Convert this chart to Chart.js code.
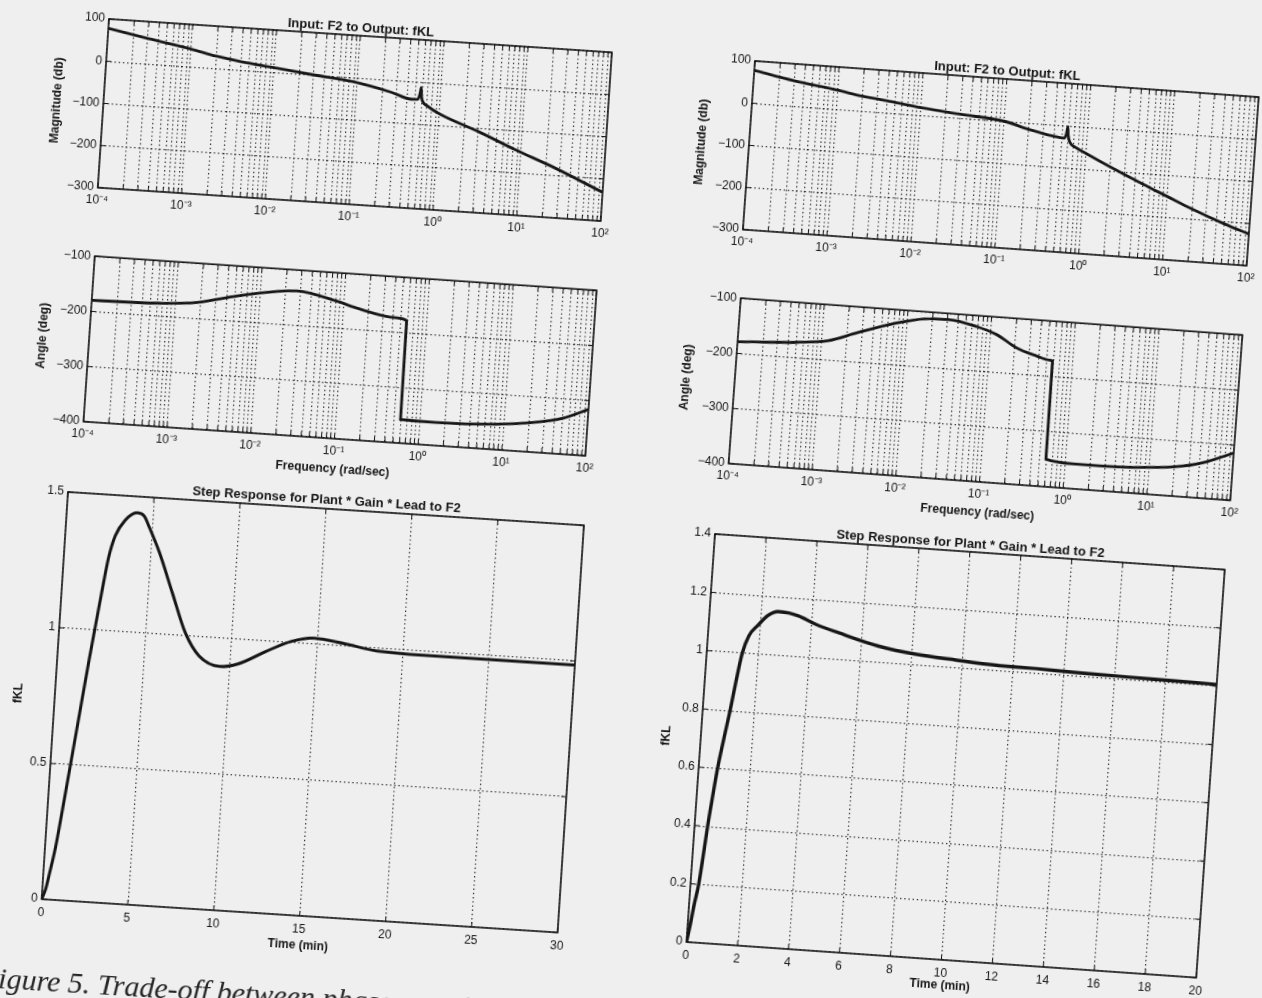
<!DOCTYPE html>
<html>
<head>
<meta charset="utf-8">
<title>Bode and step responses</title>
<script src="https://cdn.jsdelivr.net/npm/chart.js@4.4.1/dist/chart.umd.min.js"></script>
<style>
  html, body { margin: 0; padding: 0; background: #efefef; width: 1262px; height: 998px; overflow: hidden; }
  body { position: relative; }
  .plot { position: absolute; }
  .plot canvas { display: block; }
  #caption {
    position: absolute; left: -19px; top: 962px; margin: 0;
    font: italic 30px "Liberation Serif", "DejaVu Serif", serif; color: #262626;
    transform: rotate(3.5deg); transform-origin: 0 0; white-space: nowrap; line-height: 1;
  }
</style>
</head>
<body>
<div class="plot" id="wrapMagL"><canvas id="magL"></canvas></div>
<div class="plot" id="wrapPhaseL"><canvas id="phaseL"></canvas></div>
<div class="plot" id="wrapMagR"><canvas id="magR"></canvas></div>
<div class="plot" id="wrapPhaseR"><canvas id="phaseR"></canvas></div>
<div class="plot" id="wrapStepL"><canvas id="stepL"></canvas></div>
<div class="plot" id="wrapStepR"><canvas id="stepR"></canvas></div>
<p id="caption">Figure 5. Trade-off between phase margin and</p>

<script>
// ---- values ----
// tick labels
const decadeTicks = [1e-4, 1e-3, 1e-2, 1e-1, 1, 10, 100];
const decadeLabels = ['10⁻⁴', '10⁻³', '10⁻²', '10⁻¹', '10⁰', '10¹', '10²'];
const magTicks = [-300, -200, -100, 0, 100];
const phaseTicks = [-400, -300, -200, -100];
const stepLeftXTicks = [0, 5, 10, 15, 20, 25, 30];
const stepLeftYTicks = [0, 0.5, 1, 1.5];
const stepRightXTicks = [0, 2, 4, 6, 8, 10, 12, 14, 16, 18, 20];
const stepRightYTicks = [0, 0.2, 0.4, 0.6, 0.8, 1, 1.2, 1.4];

// left column: magnitude (db) and angle (deg) against frequency (rad/sec)
const magFreqLeft = [1e-4, 3e-4, 1e-3, 2e-3, 4e-3, 1e-2, 3e-2, 9e-2, 0.26, 0.45, 0.54, 0.57, 0.58, 0.595, 0.63, 0.7, 1, 3, 8.5, 26, 100];
const magLeft = [78, 60, 42, 29, 20, 11, 0, -10, -29, -42, -41, -25, -13, -35, -48, -55, -72, -108, -145, -182, -232];
const phaseFreqLeft = [1e-4, 6.2e-4, 1.8e-3, 5.4e-3, 1.6e-2, 2.7e-2, 8.1e-2, 0.14, 0.43, 0.58, 0.59, 1.55, 7.9, 23, 50, 100];
const phaseLeft = [-180, -177, -171, -154, -141, -138, -151, -161, -174, -178, -357, -358, -354, -346, -335, -316];

// right column
const magFreqRight = [1e-4, 3e-4, 1e-3, 2e-3, 5e-3, 1e-2, 3e-2, 0.1, 0.2, 0.4, 0.53, 0.565, 0.58, 0.595, 0.63, 0.75, 1, 2, 5, 10, 20, 50, 100];
const magRight = [78, 60, 45, 35, 26, 18, 9, 0, -15, -27, -30, -20, -3, -22, -38, -50, -62, -90, -125, -150, -175, -205, -225];
const phaseFreqRight = [1e-4, 5.2e-4, 1.2e-3, 2.6e-3, 7.6e-3, 1.6e-2, 3.1e-2, 6.8e-2, 0.12, 0.21, 0.37, 0.54, 0.58, 0.59, 1.3, 6.9, 20, 43, 100];
const phaseRight = [-179, -172, -165, -147, -124, -113, -111, -120, -132, -153, -165, -171, -172, -350, -355, -353, -347, -336, -314];

// step responses, fKL against time (min)
const stepTimeLeft = [0, 0.2, 0.36, 0.61, 0.8, 1.2, 1.5, 1.85, 2.1, 2.31, 2.6, 2.9, 3.42, 4.09, 4.5, 4.84, 5.52, 6.42, 7.33, 8.2, 9.45, 10.5, 12, 13.5, 14.8, 16.5, 18.5, 22, 26, 30];
const stepLeft = [0, 0.04, 0.097, 0.194, 0.294, 0.52, 0.69, 0.888, 1.02, 1.13, 1.27, 1.35, 1.41, 1.44, 1.43, 1.39, 1.30, 1.155, 1.01, 0.93, 0.896, 0.91, 0.96, 1.005, 1.022, 1.01, 0.99, 0.985, 0.985, 0.985];
const stepTimeRight = [0, 0.1, 0.2, 0.32, 0.42, 0.51, 0.62, 0.74, 0.9, 1.07, 1.22, 1.39, 1.6, 1.94, 2.3, 2.69, 3.1, 3.48, 4.2, 5.1, 6.7, 8.2, 9.77, 11.3, 12.9, 14.45, 16, 17.55, 20];
const stepRight = [0, 0.06, 0.13, 0.2, 0.3, 0.4, 0.5, 0.6, 0.7, 0.8, 0.9, 1.0, 1.06, 1.10, 1.135, 1.15, 1.148, 1.14, 1.115, 1.092, 1.056, 1.037, 1.027, 1.019, 1.017, 1.013, 1.011, 1.009, 1.006];

// ---- drawing ----
const ink = '#161616';
const gridInk = 'rgba(20,20,20,0.85)';
const sans = '"Liberation Sans", Arial, Helvetica, sans-serif';

// every 1..9 x 10^n line, like the matlab log grid
const logGrid = [];
decadeTicks.slice(0, -1).forEach(d => { for (let m = 1; m <= 9; m++) logGrid.push(m * d); });
logGrid.push(100);

// box round the plot, inner ticks and the title
const framePlugin = {
    id: 'frame',
    afterDatasetsDraw(chart, args, opts) {
        const { ctx, chartArea: a, scales } = chart;
        ctx.save();
        ctx.strokeStyle = ink;
        ctx.lineWidth = 1;
        scales.x.ticks.forEach(t => {
            const px = scales.x.getPixelForValue(t.value);
            ctx.beginPath();
            ctx.moveTo(px, a.bottom); ctx.lineTo(px, a.bottom - 5);
            ctx.moveTo(px, a.top); ctx.lineTo(px, a.top + 5);
            ctx.stroke();
        });
        scales.y.ticks.forEach(t => {
            const py = scales.y.getPixelForValue(t.value);
            ctx.beginPath();
            ctx.moveTo(a.left, py); ctx.lineTo(a.left + 5, py);
            ctx.moveTo(a.right, py); ctx.lineTo(a.right - 5, py);
            ctx.stroke();
        });
        ctx.lineWidth = 1.6;
        ctx.strokeRect(a.left, a.top, a.right - a.left, a.bottom - a.top);
        if (opts.title) {
            ctx.font = 'bold 13px ' + sans;
            ctx.fillStyle = ink;
            ctx.textAlign = 'center';
            ctx.textBaseline = 'middle';
            ctx.fillText(opts.title, (a.left + a.right) / 2, a.top - opts.gap);
        }
        ctx.restore();
    }
};
Chart.register(framePlugin);

function minus(v) {
    return String(v).replace('-', '\u2212');
}

function curve(xs, ys, width) {
    return {
        data: xs.map((x, i) => ({ x: x, y: ys[i] })),
        borderColor: ink,
        borderWidth: width,
        pointRadius: 0,
        cubicInterpolationMode: 'monotone',
        fill: false
    };
}

function axisTitle(text, pad) {
    if (!text) return { display: false };
    return { display: true, text: text, color: ink, font: { size: 12, weight: 'bold', family: sans }, padding: pad };
}

function yScale(min, max, tickList, title, titlePad) {
    return {
        type: 'linear', min: min, max: max,
        afterBuildTicks: s => { s.ticks = tickList.map(v => ({ value: v })); },
        ticks: { autoSkip: false, padding: 4, color: ink, font: { size: 12, family: sans }, callback: v => minus(v) },
        grid: { color: gridInk, lineWidth: 1.2, drawTicks: false },
        border: { display: false, dash: [1.4, 2.8] },
        title: axisTitle(title, { top: titlePad, bottom: 0 })
    };
}

function logXScale(title, titlePad) {
    return {
        type: 'logarithmic', min: 1e-4, max: 100,
        afterBuildTicks: s => { s.ticks = logGrid.map(v => ({ value: v })); },
        ticks: {
            autoSkip: false, maxRotation: 0, padding: 5, color: ink, font: { size: 12, family: sans },
            callback: v => { const i = decadeTicks.indexOf(v); return i < 0 ? '' : decadeLabels[i]; }
        },
        grid: { color: gridInk, lineWidth: 1.2, drawTicks: false },
        border: { display: false, dash: [1.4, 2.8] },
        title: axisTitle(title, { top: 0, bottom: titlePad })
    };
}

function linXScale(max, tickList, title, titlePad) {
    return {
        type: 'linear', min: 0, max: max,
        afterBuildTicks: s => { s.ticks = tickList.map(v => ({ value: v })); },
        ticks: { autoSkip: false, maxRotation: 0, padding: 6, color: ink, font: { size: 12, family: sans } },
        grid: { color: gridInk, lineWidth: 1.2, drawTicks: false },
        border: { display: false, dash: [1.4, 2.8] },
        title: axisTitle(title, { top: 0, bottom: titlePad })
    };
}

// box = plot area corner on the page, its size and the scan's tilt
function place(name, box, pad, dataset, scales, title, gap) {
    const W = pad.l + box.w + pad.r;
    const H = pad.t + box.h + pad.b;
    const cv = document.getElementById(name);
    cv.width = W; cv.height = H;
    cv.style.width = W + 'px'; cv.style.height = H + 'px';
    const wrap = document.getElementById('wrap' + name.charAt(0).toUpperCase() + name.slice(1));
    wrap.style.left = (box.x - pad.l) + 'px';
    wrap.style.top = (box.y - pad.t) + 'px';
    wrap.style.transformOrigin = pad.l + 'px ' + pad.t + 'px';
    wrap.style.transform = 'rotate(' + box.rot + 'deg)';
    scales.y.afterFit = s => { s.width = pad.l; };
    scales.x.afterFit = s => { s.height = pad.b; };
    return new Chart(cv, {
        type: 'line',
        data: { datasets: [dataset] },
        options: {
            responsive: false,
            animation: false,
            devicePixelRatio: 1,
            events: [],
            layout: { padding: { top: pad.t, right: pad.r, left: 0, bottom: 0 } },
            scales: scales,
            plugins: {
                legend: { display: false },
                tooltip: { enabled: false },
                frame: { title: title, gap: gap }
            }
        }
    });
}

place('magL', { x: 109, y: 19, w: 504, h: 169, rot: 3.8 }, { l: 62, r: 16, t: 22, b: 30 },
    curve(magFreqLeft, magLeft, 2.8),
    { x: logXScale(null, 0), y: yScale(-300, 100, magTicks, 'Magnitude (db)', 8) },
    'Input: F2 to Output: fKL', 8);

place('phaseL', { x: 95, y: 253, w: 503, h: 169, rot: 3.9 }, { l: 62, r: 16, t: 8, b: 46 },
    curve(phaseFreqLeft, phaseLeft, 2.8),
    { x: logXScale('Frequency (rad/sec)', 8), y: yScale(-400, -100, phaseTicks, 'Angle (deg)', 8) },
    null, 0);

place('magR', { x: 755, y: 61, w: 505, h: 169, rot: 4.1 }, { l: 62, r: 16, t: 22, b: 30 },
    curve(magFreqRight, magRight, 2.8),
    { x: logXScale(null, 0), y: yScale(-300, 100, magTicks, 'Magnitude (db)', 7) },
    'Input: F2 to Output: fKL', 8);

place('phaseR', { x: 741, y: 295, w: 503, h: 169, rot: 4.2 }, { l: 62, r: 16, t: 8, b: 46 },
    curve(phaseFreqRight, phaseRight, 2.8),
    { x: logXScale('Frequency (rad/sec)', 8), y: yScale(-400, -100, phaseTicks, 'Angle (deg)', 6) },
    null, 0);

place('stepL', { x: 68, y: 492, w: 517, h: 408, rot: 3.7 }, { l: 50, r: 14, t: 22, b: 44 },
    curve(stepTimeLeft, stepLeft, 3),
    { x: linXScale(30, stepLeftXTicks, 'Time (min)', 7), y: yScale(0, 1.5, stepLeftYTicks, 'fKL', 6) },
    'Step Response for Plant * Gain * Lead to F2', 9);

place('stepR', { x: 715, y: 534, w: 511, h: 409, rot: 4.0 }, { l: 48, r: 14, t: 22, b: 40 },
    curve(stepTimeRight, stepRight, 3.4),
    { x: linXScale(20, stepRightXTicks, 'Time (min)', 7), y: yScale(0, 1.4, stepRightYTicks, 'fKL', 6) },
    'Step Response for Plant * Gain * Lead to F2', 8);
</script>
</body>
</html>
